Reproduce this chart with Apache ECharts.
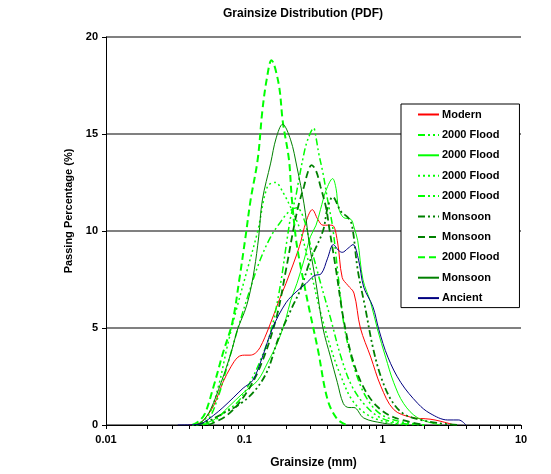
<!DOCTYPE html>
<html><head><meta charset="utf-8">
<script src="https://cdn.jsdelivr.net/npm/echarts@6/dist/echarts.min.js"></script>
<style>html,body{margin:0;padding:0;background:#fff}#c{width:551px;height:474px}</style>
</head><body><div id="c"></div>
<script>
// ---- data: [grainsize mm, passing %] ----
var modern = [[0.04,0],[0.045,0.05],[0.05,0.2],[0.06,1.0],[0.07,2.2],[0.08,3.0],[0.09,3.5],[0.1,3.6],[0.11,3.6],[0.12,3.7],[0.13,4.0],[0.15,5.0],[0.18,6.5],[0.2,7.3],[0.25,9.2],[0.28,10.5],[0.31,11.1],[0.34,10.6],[0.37,10.3],[0.43,10.3],[0.47,9.5],[0.51,7.6],[0.56,7.2],[0.62,6.8],[0.69,5.0],[0.82,3.5],[0.97,2.0],[1.2,0.8],[1.6,0.4],[2.2,0.3],[2.6,0.2],[3.3,0]];
var flood1 = [[0.05,0],[0.06,0.2],[0.07,0.6],[0.09,1.2],[0.11,2.2],[0.13,3.3],[0.155,4.8],[0.18,7.0],[0.205,9.7],[0.216,10.7],[0.235,11.75],[0.247,12.6],[0.27,14.0],[0.287,14.7],[0.317,15.3],[0.33,14.8],[0.345,14.0],[0.37,13.0],[0.4,11.6],[0.435,10.2],[0.48,7.5],[0.53,5.0],[0.62,3.0],[0.75,1.5],[0.95,0.6],[1.3,0.2],[2,0]];
var flood2 = [[0.045,0],[0.06,0.26],[0.076,0.9],[0.098,1.65],[0.125,2.3],[0.147,3.2],[0.175,4.3],[0.2,5.5],[0.216,6.4],[0.24,7.3],[0.27,8.5],[0.3,9.7],[0.33,10.3],[0.355,11.1],[0.39,12.1],[0.435,12.7],[0.46,12.2],[0.48,11.2],[0.52,10.7],[0.59,10.6],[0.62,10.2],[0.66,9.5],[0.72,7.5],[0.82,6.3],[0.92,4.9],[1.05,3.5],[1.2,2.2],[1.42,1.1],[1.8,0.36],[2.6,0]];
var flood3 = [[0.045,0],[0.055,0.5],[0.065,2.0],[0.075,4.0],[0.088,6.0],[0.105,8.0],[0.125,10.0],[0.147,12.3],[0.168,12.5],[0.19,12.0],[0.22,11.1],[0.255,10.0],[0.3,8.0],[0.35,6.0],[0.42,4.0],[0.5,2.5],[0.6,1.3],[0.75,0.6],[1.0,0.2],[1.5,0]];
var flood4 = [[0.045,0],[0.055,0.3],[0.065,1.5],[0.075,3.0],[0.09,5.0],[0.11,7.0],[0.13,8.5],[0.155,9.7],[0.18,10.4],[0.21,11.0],[0.24,11.2],[0.27,10.6],[0.3,9.3],[0.35,7.5],[0.42,5.5],[0.5,3.5],[0.6,2.0],[0.75,1.0],[0.95,0.4],[1.3,0.1],[2,0]];
var monsoon1 = [[0.045,0],[0.055,0.2],[0.07,0.6],[0.094,1.1],[0.12,1.8],[0.147,2.8],[0.175,4.4],[0.216,5.9],[0.255,7.0],[0.3,8.5],[0.37,10.0],[0.4,11.2],[0.435,11.75],[0.5,11.0],[0.56,10.7],[0.6,10.3],[0.66,8.0],[0.75,6.0],[0.85,4.0],[0.97,2.5],[1.15,1.3],[1.4,0.6],[1.8,0.3],[2.5,0.1],[3.5,0]];
var monsoon2 = [[0.055,0],[0.075,0.5],[0.1,1.5],[0.13,3.0],[0.17,5.5],[0.2,8.0],[0.228,10.2],[0.248,11.4],[0.27,12.3],[0.287,13.0],[0.306,13.4],[0.33,13.1],[0.355,12.3],[0.39,11.2],[0.41,10.2],[0.46,8.0],[0.52,5.5],[0.6,3.5],[0.72,2.0],[0.9,1.0],[1.2,0.4],[2,0]];
var flood5 = [[0.042,0],[0.047,0.2],[0.052,0.6],[0.06,2.0],[0.07,3.7],[0.082,5.3],[0.092,7.5],[0.102,9.7],[0.111,11.6],[0.125,13.7],[0.135,16.2],[0.145,17.8],[0.157,18.8],[0.177,17.6],[0.19,15.6],[0.21,13.7],[0.22,11.75],[0.235,9.7],[0.25,8.5],[0.27,7.3],[0.29,6.2],[0.34,3.9],[0.4,1.3],[0.47,0.3],[0.55,0]];
var monsoon3 = [[0.045,0],[0.05,0.2],[0.057,0.8],[0.068,2.2],[0.08,3.7],[0.09,5.0],[0.1,5.8],[0.108,6.6],[0.118,8.0],[0.127,9.7],[0.135,11.6],[0.155,13.5],[0.17,14.8],[0.189,15.5],[0.216,14.7],[0.24,13.3],[0.27,11.4],[0.29,9.7],[0.3,9.0],[0.33,7.3],[0.37,5.0],[0.42,3.5],[0.47,2.2],[0.52,1.1],[0.57,0.9],[0.62,0.9],[0.73,0.36],[1.0,0.1],[1.3,0]];
var ancient = [[0.033,0],[0.045,0.02],[0.05,0.1],[0.06,0.5],[0.07,0.9],[0.083,1.4],[0.098,1.9],[0.115,2.3],[0.135,3.5],[0.16,5.0],[0.2,6.3],[0.24,6.9],[0.28,7.3],[0.32,7.7],[0.36,7.8],[0.4,8.6],[0.44,9.3],[0.48,9.0],[0.51,8.9],[0.56,9.1],[0.61,9.3],[0.67,8.5],[0.73,7.1],[0.85,6.1],[0.94,4.9],[1.09,3.5],[1.35,2.2],[1.8,1.1],[2.2,0.6],[2.95,0.26],[3.55,0.26],[4.0,0]];

var seriesNames = ['Modern','2000 Flood','2000 Flood','2000 Flood','2000 Flood','Monsoon','Monsoon','2000 Flood','Monsoon','Ancient'];
var xTickValues = [0.01,0.02,0.03,0.04,0.05,0.06,0.07,0.08,0.09,0.1,0.2,0.3,0.4,0.5,0.6,0.7,0.8,0.9,1,2,3,4,5,6,7,8,9,10];
var xLabelValues = [0.01,0.1,1,10];

var datasets = [modern,flood1,flood2,flood3,flood4,monsoon1,monsoon2,flood5,monsoon3,ancient];
var styles = [
  {color:'#FF0000', width:1, type:'solid'},
  {color:'#00FF00', width:1.5, type:[7,3,2,3,2,3]},
  {color:'#00FF00', width:1, type:'solid'},
  {color:'#00FF00', width:1.5, type:[2,3]},
  {color:'#00FF00', width:1.5, type:[7,3,2,3,2,3]},
  {color:'#008000', width:1.8, type:[7,3,2,3,2,3]},
  {color:'#008000', width:1.8, type:[7,4]},
  {color:'#00FF00', width:2, type:[7,4]},
  {color:'#008000', width:1, type:'solid'},
  {color:'#000080', width:1, type:'solid'}
];

var series = datasets.map(function(d,i){
  return {
    name: seriesNames[i] + '#' + i,
    type: 'line',
    data: d,
    smooth: 0.35,
    symbol: 'none',
    color: styles[i].color,
    lineStyle: {color: styles[i].color, width: styles[i].width, type: styles[i].type},
    z: 2 + i
  };
});

var font = 'Liberation Sans, Arial, sans-serif';
var chart = echarts.init(document.getElementById('c'), null, {renderer:'canvas'});
chart.setOption({
  animation: false,
  backgroundColor: '#fff',
  title: {
    text: 'Grainsize Distribution (PDF)',
    left: 298, top: 3, textAlign: 'center',
    textStyle: {fontFamily: font, fontSize: 12, fontWeight: 'bold', color: '#000'}
  },
  grid: {left: 106, right: 30, top: 37, bottom: 49, containLabel: false},
  legend: {
    orient: 'vertical',
    left: 401, top: 104,
    padding: [5, 20, 4, 16],
    itemWidth: 21, itemHeight: 12, itemGap: 9.4,
    backgroundColor: '#fff',
    borderColor: '#000', borderWidth: 1,
    selectedMode: false,
    itemStyle: {color: 'rgba(0,0,0,0)', borderColor: 'rgba(0,0,0,0)', borderWidth: 0, opacity: 0},
    formatter: function(n){ return n.split('#')[0]; },
    textStyle: {fontFamily: font, fontSize: 11, fontWeight: 'bold', color: '#000', padding: [0,0,0,-2]},
    data: series.map(function(s){ return s.name; })
  },
  xAxis: {
    type: 'log', logBase: 10, min: 0.01, max: 10,
    name: 'Grainsize (mm)', nameLocation: 'middle', nameGap: 32,
    nameTextStyle: {fontFamily: font, fontSize: 12, fontWeight: 'bold', color: '#000'},
    axisLine: {show: true, onZero: false, lineStyle: {color: '#000', width: 1}},
    axisTick: {show: true, length: 4, inside: false, customValues: xTickValues, lineStyle: {color: '#000'}},
    axisLabel: {customValues: xLabelValues, fontFamily: font, fontSize: 11, fontWeight: 'bold', color: '#000', margin: 9,
      formatter: function(v){ return String(+v.toPrecision(3)); }},
    splitLine: {show: false},
    minorTick: {show: false}
  },
  yAxis: {
    type: 'value', min: 0, max: 20, interval: 5,
    name: 'Passing Percentage (%)', nameLocation: 'middle', nameGap: 20,
    nameTextStyle: {fontFamily: font, fontSize: 11, fontWeight: 'bold', color: '#000', padding: [0,0,0,40]},
    axisLine: {show: true, lineStyle: {color: '#000', width: 1}},
    axisTick: {show: true, length: 4, lineStyle: {color: '#000'}},
    axisLabel: {fontFamily: font, fontSize: 11, fontWeight: 'bold', color: '#000', margin: 8},
    splitLine: {show: true, lineStyle: {color: '#808080', width: 2}}
  },
  series: series
});
</script></body></html>
